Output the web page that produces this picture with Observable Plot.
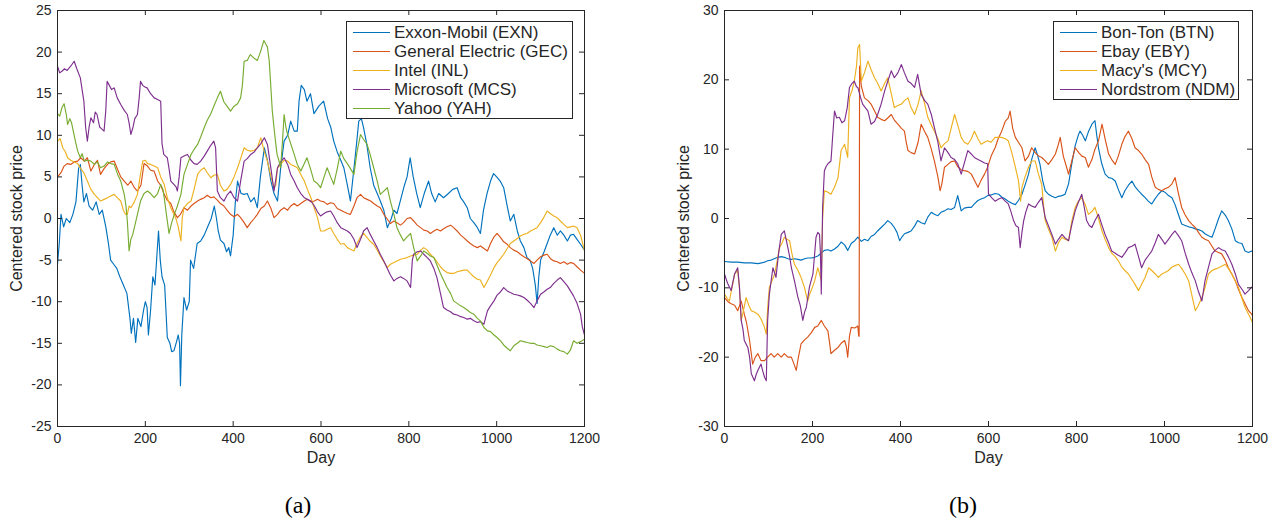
<!DOCTYPE html>
<html><head><meta charset="utf-8">
<script src="https://cdn.jsdelivr.net/npm/d3@7"></script>
<script src="https://cdn.jsdelivr.net/npm/@observablehq/plot@0.6"></script>
<style>
body{margin:0;background:#fff}
#root{position:relative;width:1275px;height:522px;overflow:hidden;font-family:"Liberation Sans",Arial,sans-serif;color:#262626;background:#fff}
.panel{position:absolute;top:0}
.legend{position:absolute;background:#fff;border:1px solid #262626;box-sizing:border-box}
.row{position:absolute;left:0;height:19px;font-size:17px;line-height:19px;white-space:nowrap}
.row svg{position:absolute;left:6px;top:0}
.row span{position:absolute}
.cap{position:absolute;width:100px;text-align:center;font-family:"Liberation Serif","Times New Roman",serif;font-size:24px;line-height:24px;color:#000}
</style></head>
<body><div id="root"></div>
<script>
// ---------- data ----------
const xTicks = [0, 200, 400, 600, 800, 1000, 1200];
const yTicksA = [-25, -20, -15, -10, -5, 0, 5, 10, 15, 20, 25];
const yTicksB = [-30, -20, -10, 0, 10, 20, 30];
const namesA = ["Exxon-Mobil (EXN)", "General Electric (GEC)", "Intel (INL)", "Microsoft (MCS)", "Yahoo (YAH)"];
const namesB = ["Bon-Ton (BTN)", "Ebay (EBY)", "Macy's (MCY)", "Nordstrom (NDM)"];
const colors = ["#0072BD", "#D95319", "#EDB120", "#7E2F8E", "#77AC30"];

const exn = [[0,-5.5],[4,-3],[8,0.5],[14,-1],[20,0],[28,-0.5],[35,0.5],[42,2],[48,6],[52,6.5],[56,4],[60,2],[66,3],[72,1.5],[80,1],[88,2],[95,0.5],[102,1],[110,-1],[116,-3],[121,-5],[128,-5.5],[135,-6],[142,-7],[150,-8],[158,-9],[165,-12],[168,-13.8],[173,-12],[178,-14.9],[183,-12],[190,-13],[196,-11],[200,-10],[204,-10.7],[207,-14],[212,-11],[217,-7],[222,-8],[227,-3.9],[230,-1.5],[234,-5],[238,-7],[244,-8],[250,-14.3],[256,-15],[260,-16],[265,-15.9],[270,-15],[275,-14],[278,-15],[280,-20.1],[283,-14],[288,-9.5],[294,-11],[300,-10],[303,-5],[310,-6],[318,-3],[326,-2.7],[334,-2],[342,-1],[350,0],[357,1.5],[362,0],[366,-1.5],[371,-2.6],[379,-3],[385,-4],[390,-3.5],[394,-4.5],[400,-2],[405,2],[410,4.5],[418,3],[425,2.9],[432,3],[440,2],[448,2.5],[455,1.3],[462,5],[471,8.5],[478,7],[486,4.5],[493,3],[501,2.1],[508,6],[516,9.3],[524,10],[531,11.7],[539,10.5],[546,10.5],[550,14.1],[555,16],[562,15.5],[568,14.1],[576,15],[584,12.6],[595,13.5],[606,14.1],[615,12],[622,11],[629,9.3],[637,8],[645,7],[652,6.1],[660,4],[667,2.1],[675,6],[681,9],[686,11.7],[692,12],[697,10.9],[704,9],[712,6.1],[720,4],[728,3],[735,2.1],[743,1],[751,-1.1],[760,0],[766,1],[773,0.6],[780,2],[790,4],[796,5],[803,7.3],[810,5],[818,3],[826,1.3],[835,3],[845,4.5],[852,3],[860,2],[868,3],[879,2.5],[890,3],[900,3.5],[910,3.7],[918,2.5],[925,2],[933,1.3],[940,0],[948,-0.5],[955,-1],[963,-1.8],[970,1],[978,3],[986,4.5],[993,5.4],[1000,5],[1008,4.5],[1016,3.7],[1024,1.5],[1031,-0.3],[1039,0.5],[1047,-1.5],[1054,-2.7],[1062,-3.5],[1069,-4.7],[1076,-5],[1082,-6],[1088,-8],[1092,-10.2],[1096,-7],[1100,-5],[1108,-4],[1115,-3],[1122,-2],[1130,-1.1],[1138,-2],[1145,-1.5],[1153,-2],[1161,-2.7],[1168,-2],[1175,-1.9],[1183,-2.5],[1191,-3.1],[1200,-3.8]];

const gec = [[0,5],[8,5.5],[15,6.3],[22,6.6],[30,6.5],[38,6.8],[46,6.9],[53,7.3],[61,6.9],[68,7.3],[76,5.7],[84,6.5],[91,7],[98,5.3],[106,6],[114,6.5],[121,6.8],[129,6.9],[136,6],[144,5],[152,4.5],[160,4],[167,4.5],[175,3.7],[182,3.3],[190,4],[197,6.6],[205,6.3],[212,5.8],[220,5.7],[228,4.5],[235,4],[243,2.9],[250,2.2],[258,1.8],[265,0.8],[273,0.1],[280,0.5],[288,1.3],[296,1],[304,1.5],[311,1.8],[319,2.1],[326,2.3],[334,2.5],[341,2.8],[349,2.5],[356,2.6],[364,2.2],[371,1.8],[379,1.5],[386,1],[394,0.5],[402,0.2],[410,0.5],[417,0.1],[425,-0.5],[432,-1.1],[440,-0.5],[448,0],[455,0.5],[463,1.2],[471,1.5],[478,2.1],[486,1.2],[493,0.1],[501,0.5],[508,1],[516,1.3],[524,1],[531,1.5],[539,1.8],[546,1.5],[554,1.8],[562,2.1],[569,2.3],[577,2],[585,2.1],[592,2.3],[599,2.1],[607,2],[614,1.7],[622,1.9],[629,1.8],[637,1.2],[645,1],[652,0.8],[660,0.6],[667,0.5],[675,1.5],[682,2.5],[690,2.9],[697,2.5],[705,2.3],[713,2.1],[720,1.8],[728,1.5],[735,1.3],[743,0.5],[750,0],[758,-0.6],[766,-0.3],[773,-0.5],[781,-0.8],[788,-0.5],[796,0],[804,0.1],[811,-0.3],[819,-0.8],[827,-1.1],[834,-1.4],[842,-1.5],[849,-1.8],[857,-1.5],[864,-1.3],[872,-1.5],[880,-1.2],[887,-1],[895,-0.8],[902,-1.1],[910,-1.5],[918,-2],[925,-2.3],[933,-2.7],[940,-3],[948,-3.3],[956,-3.5],[963,-3.3],[971,-3.6],[979,-3.9],[986,-3],[994,-2.2],[1001,-1.8],[1009,-2.3],[1016,-2.8],[1024,-3.1],[1031,-3.5],[1039,-3.8],[1047,-4],[1054,-4.3],[1062,-4.6],[1069,-4.8],[1077,-5.1],[1085,-5.4],[1092,-5],[1100,-4.6],[1108,-4.4],[1115,-4.3],[1122,-4.8],[1130,-5.1],[1138,-5.2],[1145,-5.4],[1153,-5.2],[1161,-5.5],[1168,-5.3],[1175,-5.4],[1183,-5.8],[1191,-6.2],[1200,-6.6]];

const inl = [[0,9.3],[6,9.6],[12,8.5],[18,8],[23,7.3],[30,7],[38,6.8],[46,6.6],[53,6],[60,5.5],[68,4.5],[76,3.5],[84,2.9],[91,2.5],[98,2.1],[106,2.3],[114,2.5],[121,2.7],[129,2.9],[136,2.5],[144,2.1],[150,1],[155,0.5],[159,0.5],[163,1.5],[167,1.3],[175,2],[182,2.9],[188,5],[194,6.9],[200,7],[205,6.6],[212,6.5],[220,6.3],[228,6.1],[235,5],[243,4.1],[250,2.5],[258,1.3],[265,0.5],[269,0.1],[275,-1],[281,-2.7],[284,0],[288,1.3],[296,1.8],[304,2.1],[311,3.5],[319,5.3],[326,5.8],[334,6.1],[341,5.5],[349,4.9],[356,5.2],[364,5.3],[371,4],[379,3.3],[386,3.5],[394,4.1],[402,5],[410,6.1],[417,7.2],[425,8.5],[432,8.2],[440,8.1],[448,8.2],[455,8.5],[463,9.7],[471,8],[478,6.9],[486,5],[493,3.7],[497,4],[501,6.1],[508,6.5],[516,7],[524,6.9],[531,6.5],[539,6.3],[546,6.1],[554,5.3],[562,4.5],[569,3.5],[577,2.5],[585,1.2],[592,0.1],[599,-1.5],[607,-1.5],[614,-1.3],[622,-1.1],[629,-1.8],[637,-2.5],[645,-3.1],[652,-3],[660,-3.5],[667,-3.7],[675,-3.9],[682,-3],[690,-2.2],[697,-1.8],[705,-2.3],[713,-2.8],[720,-3.1],[728,-3.8],[735,-4.5],[743,-5.2],[751,-5.9],[758,-5.5],[766,-5.3],[773,-5.1],[781,-4.9],[788,-4.8],[796,-4.7],[804,-4.5],[811,-4.4],[819,-4.3],[827,-3.8],[834,-3.5],[842,-3.8],[849,-4.3],[857,-4.7],[864,-5.2],[872,-5.8],[879,-6.2],[887,-6.5],[895,-6.6],[902,-6.6],[910,-6.4],[918,-6.3],[925,-6.2],[933,-6.2],[940,-6.6],[948,-7],[956,-7.3],[963,-7.4],[971,-8.3],[979,-7.5],[986,-6.8],[994,-5.9],[1001,-5.3],[1009,-4.8],[1016,-4.3],[1024,-3.6],[1031,-3],[1039,-2.7],[1047,-2.4],[1054,-2.1],[1062,-1.9],[1069,-1.8],[1077,-1.5],[1085,-1.3],[1092,-1.1],[1100,-0.5],[1108,0.2],[1115,0.9],[1122,0.6],[1130,0.3],[1138,0.1],[1145,-0.3],[1153,-0.7],[1161,-1.1],[1168,-1],[1175,-0.9],[1183,-1.1],[1191,-2],[1200,-3.9]];

const mcs = [[0,18.3],[5,17.5],[10,17.7],[16,18],[22,17.8],[30,18.3],[38,18.9],[44,18],[52,16.9],[56,15.5],[60,14.1],[64,11],[68,9.3],[72,11],[76,12.1],[82,11.5],[86,12.8],[90,12.5],[96,11],[100,10.8],[106,10.5],[110,13],[113,16.5],[118,16],[123,15.5],[129,15.7],[136,14.5],[144,13.7],[152,13],[159,12.5],[163,11.5],[167,10.1],[172,11],[176,12],[182,12.5],[186,14.5],[189,16.5],[194,16],[199,15.8],[204,15.7],[212,15],[220,14.5],[228,14.3],[235,14.1],[238,9],[242,7.7],[246,7.5],[250,7.3],[254,6],[258,4.5],[265,4.1],[270,3.8],[273,3.3],[277,5],[281,7.3],[288,7.5],[296,7.7],[304,7],[311,6.6],[318,6.5],[326,6.9],[334,7.5],[341,8.1],[349,8.8],[356,9.3],[360,8.5],[364,3.3],[371,2.5],[379,2.1],[386,2.8],[394,3.3],[402,2.5],[410,2.1],[417,4.5],[425,6.9],[432,7.2],[440,7.7],[448,8],[455,8.5],[463,9],[471,9.7],[478,8.9],[486,6],[493,3.3],[501,6.1],[508,6.8],[516,7.3],[524,6.5],[531,5.3],[539,4.5],[546,3.7],[554,3],[562,2.5],[569,2.3],[577,2.1],[585,1.5],[592,0.8],[599,0.3],[607,0.6],[614,0.8],[622,0.9],[629,0.3],[637,-0.5],[645,-1.1],[652,-1.3],[660,-1.5],[667,-1.8],[675,-2.5],[682,-3.5],[690,-2.5],[697,-1.5],[705,-1.1],[713,-2],[720,-2.7],[728,-3.5],[735,-4.3],[743,-5.1],[751,-6],[758,-6.8],[766,-7.5],[773,-7.2],[781,-7],[788,-7.2],[796,-7.5],[804,-8.3],[808,-5],[811,-4.3],[819,-4],[827,-3.9],[834,-4.3],[842,-4.7],[849,-5.1],[857,-6],[864,-7.1],[872,-9],[879,-10.7],[887,-11],[895,-11.2],[902,-11.5],[910,-11.6],[918,-11.8],[925,-11.9],[933,-12.1],[940,-12],[948,-12.3],[956,-12.5],[963,-12.4],[971,-12.7],[979,-11.1],[986,-10.5],[994,-9.9],[1001,-9.2],[1009,-8.8],[1016,-8.3],[1024,-8.7],[1031,-8.9],[1039,-9.1],[1047,-9.2],[1054,-9.3],[1062,-9.5],[1069,-9.8],[1077,-10.2],[1085,-10.7],[1092,-9.9],[1100,-9.1],[1108,-8.8],[1115,-8.5],[1122,-8.3],[1130,-7.8],[1138,-7.4],[1145,-7.1],[1153,-7.6],[1161,-8.1],[1168,-8.7],[1175,-9.3],[1183,-10.2],[1191,-11.5],[1195,-13],[1200,-14]];

const yah = [[0,12.6],[5,12.3],[10,13.3],[15,13.8],[20,12.5],[23,11.3],[28,12],[32,11.5],[38,10],[42,9],[46,8.1],[52,7.3],[56,7.8],[61,6.9],[68,7],[76,6.9],[84,6.5],[91,6.8],[98,6.1],[106,6.3],[114,6.8],[121,6.6],[129,6.5],[137,5.3],[144,4.5],[152,2.9],[156,1.5],[159,-0.3],[163,-3.9],[167,-2.5],[171,-2],[175,-1.1],[182,0.5],[189,2.1],[197,3],[205,3.3],[212,3],[220,2.5],[228,3],[235,4.1],[240,3.5],[243,2.5],[248,0.5],[254,-1.8],[260,-0.5],[266,0.5],[273,1.5],[281,2.9],[288,5.3],[296,6.5],[304,7.7],[311,8.3],[319,8.9],[326,9.8],[334,10.9],[341,11.8],[349,12.6],[356,13.5],[364,14.5],[371,15.3],[379,14],[386,13.5],[394,12.9],[402,13.5],[410,13.8],[417,14.5],[421,16],[425,18.9],[432,19],[439,19.7],[447,19.3],[455,19],[462,20],[470,21.4],[474,21],[478,20.6],[482,19],[485,16.5],[489,13],[493,10.9],[497,9],[500,7.7],[504,7],[508,6.1],[512,9],[516,12.5],[520,11],[523,10.3],[531,9],[539,7.7],[546,6.5],[554,5.7],[561,6.5],[568,7.3],[576,6],[584,4.5],[592,4.2],[599,3.7],[607,5],[614,6.1],[622,5],[629,4.1],[637,6],[645,8.1],[652,7.2],[660,6.6],[667,6],[675,5.3],[682,8],[690,10.1],[697,9.5],[705,8.9],[713,7.5],[720,6.1],[728,4.5],[735,2.9],[743,3.3],[751,3.7],[758,2.1],[766,0.5],[773,-1.1],[781,-2],[788,-2.7],[796,-2.2],[804,-1.8],[811,-3.5],[819,-5.1],[827,-4.5],[834,-3.9],[842,-4.2],[849,-4.5],[857,-4.7],[864,-5.6],[872,-6.6],[880,-7.5],[887,-8.3],[895,-9],[902,-9.9],[910,-10.2],[918,-10.5],[925,-10.7],[933,-11],[940,-11.3],[948,-11.5],[956,-12],[963,-12.3],[971,-13.1],[979,-13.5],[986,-13.6],[994,-14],[1001,-14.3],[1009,-14.7],[1016,-15.2],[1024,-15.6],[1031,-15.9],[1039,-15.3],[1047,-15],[1054,-14.7],[1062,-14.8],[1069,-14.9],[1077,-15],[1085,-15],[1092,-15.2],[1100,-15.3],[1108,-15.4],[1115,-15.5],[1122,-15.3],[1130,-15.4],[1138,-15.7],[1145,-15.9],[1153,-16],[1161,-16.3],[1168,-15.8],[1175,-14.7],[1183,-15],[1191,-14.8],[1200,-14.5]];

const btn = [[0,-6.2],[15,-6.3],[30,-6.3],[45,-6.4],[61,-6.4],[76,-6.5],[91,-6.3],[98,-6.1],[106,-6],[113,-5.8],[121,-5.6],[129,-5.5],[136,-5.6],[144,-5.8],[152,-5.9],[159,-5.8],[167,-5.9],[174,-6],[182,-5.8],[189,-5.7],[197,-5.7],[205,-5.6],[212,-5.4],[220,-5],[227,-4.6],[235,-4.5],[242,-4.7],[250,-4.4],[258,-4],[265,-3.4],[273,-3.8],[280,-4.6],[288,-3.6],[296,-3.2],[303,-2.7],[311,-3.3],[318,-3],[326,-3.2],[333,-2.6],[341,-2.3],[348,-1.8],[356,-1.3],[364,-0.8],[371,-0.3],[379,-0.7],[386,-1.3],[392,-2],[398,-3.2],[404,-2.6],[409,-2.2],[417,-2],[424,-1.8],[432,-1.1],[439,-0.3],[447,-0.6],[455,-0.8],[462,0.2],[470,0.9],[477,0.6],[485,0.4],[492,0.9],[500,1.1],[508,1.4],[515,1.3],[523,1.6],[530,3.3],[534,2.2],[538,1.1],[545,1.5],[553,1.6],[561,1.6],[568,2.1],[576,2.6],[583,2.8],[591,3],[598,3.3],[606,3.4],[615,3.6],[623,3.5],[630,3.1],[638,2.8],[645,2.5],[653,2.2],[661,2],[668,2.6],[676,3.5],[684,5],[691,6.4],[698,8.5],[706,10.2],[712,9],[717,7.8],[723,5.5],[729,4],[736,3.5],[744,3.2],[752,3],[759,3.2],[767,3.3],[774,3.5],[782,5],[789,7.8],[797,10.5],[804,12],[808,12.6],[814,12],[820,11.2],[827,12.5],[835,13.6],[842,14.1],[846,12],[850,10.2],[857,8],[865,6.4],[873,5.9],[880,5.8],[888,5.4],[895,4.2],[903,3],[910,4],[918,4.8],[926,5.4],[933,4.6],[941,4],[948,3.5],[956,3],[963,2.5],[971,2.1],[978,2.8],[986,3.5],[994,4],[1001,3.8],[1009,3.3],[1017,3],[1024,2],[1032,0.5],[1039,-0.8],[1047,-1],[1055,-1.2],[1062,-1.3],[1070,-1.5],[1077,-1.6],[1085,-1.8],[1092,-2.2],[1100,-2.5],[1108,-2.7],[1115,-1.5],[1123,0],[1130,1.1],[1138,0.5],[1145,-0.3],[1153,-1.5],[1161,-3.2],[1168,-3.5],[1176,-3.6],[1183,-4.7],[1191,-4.9],[1198,-4.7],[1200,-4.8]];

const eby = [[0,-11.4],[8,-12],[15,-12.3],[23,-12.5],[30,-13.3],[38,-11.9],[45,-13.8],[50,-15],[57,-17.6],[64,-21],[70,-20],[76,-19.5],[83,-20.5],[91,-20.5],[98,-20],[106,-19.5],[113,-20],[121,-19.5],[129,-20],[136,-19.5],[144,-20],[152,-20],[158,-21],[163,-21.9],[168,-20],[174,-18.1],[182,-17.5],[189,-17.1],[197,-16.5],[205,-15.7],[212,-15.5],[220,-14.7],[227,-15.5],[235,-16.2],[239,-18],[242,-19.5],[250,-19],[258,-18.6],[265,-18],[273,-17.6],[277,-18.5],[280,-20],[284,-17],[288,-15.7],[296,-15.8],[303,-15.5],[305,-16.9],[306,-17],[307,22],[311,19.1],[318,17.4],[326,17],[333,16.5],[341,15.5],[348,14.6],[356,14.3],[364,14.1],[371,14.5],[379,15],[386,14.2],[394,13.6],[402,13],[409,12.6],[413,11],[417,9.8],[424,9.5],[432,9.3],[440,11],[447,13.6],[455,12.5],[462,11.7],[470,10],[477,8.3],[485,6],[490,4],[494,5],[500,7.4],[508,7.8],[515,8.2],[523,8.3],[530,7.5],[538,7],[545,6.9],[553,6.8],[561,6.4],[568,5.5],[576,4.5],[583,5.5],[591,6.4],[598,7.4],[606,9],[615,10.2],[622,11.5],[630,12.6],[638,14],[645,14.5],[649,15.5],[655,13],[661,11.7],[668,11],[676,10.2],[683,8.3],[691,9],[698,10.2],[706,9.5],[714,9],[721,8.8],[729,8.3],[736,7.8],[744,8.5],[752,9.3],[758,10.5],[763,11.7],[770,9],[777,7.5],[782,6.4],[790,8.5],[797,10.2],[805,9.5],[812,9],[820,8.8],[827,7.4],[835,8.5],[842,10],[850,11.2],[858,13.6],[865,11.5],[873,9.3],[880,8.5],[888,7.8],[895,9],[903,10.7],[910,11.8],[918,12.6],[926,11.5],[933,10.2],[941,9.8],[948,9.3],[956,8.5],[964,7.8],[971,6],[979,4.5],[986,4.2],[994,4],[1001,4.3],[1009,4.5],[1017,5],[1024,5.9],[1032,3.5],[1039,1.6],[1047,0.5],[1055,-0.3],[1062,-0.8],[1070,-1.3],[1077,-2],[1085,-2.7],[1092,-3],[1100,-3.2],[1108,-4],[1115,-4.7],[1123,-4.9],[1130,-5.1],[1138,-6],[1145,-7.1],[1153,-8],[1161,-9],[1168,-10.2],[1176,-11.4],[1183,-12.3],[1191,-13.3],[1198,-13.8],[1200,-14]];

const mcy = [[0,-10.9],[6,-11.5],[11,-11.9],[17,-10],[23,-8],[30,-7.5],[34,-10],[38,-14.7],[44,-13],[49,-11.4],[55,-12.5],[61,-13.3],[68,-13.5],[76,-13.8],[83,-14.5],[91,-15.7],[95,-16.7],[98,-13],[102,-9.9],[108,-9],[114,-8],[120,-6],[125,-4.2],[131,-3.5],[136,-2.7],[142,-3],[148,-3.2],[153,-5],[159,-6.6],[167,-7.5],[174,-8.5],[182,-10],[189,-11.9],[193,-11],[197,-10.4],[205,-9],[212,-7.1],[216,-8],[220,-9],[223,0],[227,4],[235,3.8],[242,3.5],[250,4.5],[258,5.9],[265,9.8],[273,10.7],[280,8.8],[284,17.4],[290,18.5],[295,19.8],[300,22],[303,24.6],[307,25.1],[311,19.8],[318,21],[326,22.7],[333,21.5],[341,20.3],[348,19.5],[356,18.4],[364,19.5],[371,20.3],[379,18],[386,16],[394,16.3],[402,16.5],[409,17],[417,17.4],[424,16],[432,15],[440,16.5],[447,18.4],[455,16.5],[462,14.6],[470,13.5],[477,12.6],[485,11.5],[492,10.2],[500,10.8],[508,11.2],[515,13],[523,15],[530,13.5],[538,11.7],[545,11],[553,10.7],[561,11.5],[568,12.6],[576,11.5],[583,10.7],[591,11],[598,11.2],[606,11],[615,11.7],[623,11.7],[630,11.7],[638,11.5],[645,11.2],[653,9.5],[661,7.4],[668,5.5],[673,2.5],[676,4.5],[683,6],[691,7.4],[698,8.3],[706,8.3],[713,6.5],[721,4.9],[725,2],[729,-0.3],[736,-1.5],[744,-2.7],[752,-4.7],[759,-3.5],[767,-2.7],[774,-3],[782,-3.2],[789,-0.5],[797,1.6],[804,2.5],[812,3],[820,2],[827,0.6],[835,1],[842,1.6],[850,0],[858,-1.8],[865,-3],[873,-4.2],[880,-5],[888,-5.5],[895,-6.1],[903,-7],[910,-7.5],[918,-8],[926,-8.8],[933,-9.5],[941,-10.4],[948,-9.5],[956,-8.5],[964,-7.1],[971,-7.5],[979,-8],[986,-8.5],[994,-8],[1001,-7.8],[1009,-7.5],[1017,-7],[1024,-6.8],[1032,-6.6],[1039,-7.2],[1047,-8],[1055,-9],[1062,-11],[1070,-13.3],[1077,-12.5],[1085,-11.4],[1092,-10],[1100,-8],[1108,-7.5],[1115,-7.3],[1123,-7.1],[1130,-6.9],[1138,-6.6],[1145,-7.2],[1153,-8],[1161,-9],[1168,-9.9],[1176,-11.5],[1183,-12.8],[1191,-13.8],[1198,-14.7],[1200,-15]];

const ndm = [[0,-8],[4,-8.8],[8,-9.5],[15,-10.4],[23,-8],[30,-7.1],[34,-9.9],[38,-14.7],[42,-16],[45,-17.6],[53,-18.6],[57,-20],[61,-22.4],[68,-23.4],[72,-22.5],[76,-21.9],[83,-21],[87,-22],[91,-22.9],[95,-23.4],[98,-14.7],[102,-10.9],[106,-9],[110,-7.1],[117,-8.5],[123,-5],[129,-2.3],[136,-1.8],[140,-3],[144,-4.2],[148,-5.5],[152,-7.1],[159,-9],[167,-11.4],[172,-12.5],[178,-14.7],[182,-13.5],[186,-12.8],[193,-9.9],[201,-8],[205,-5],[208,-2.7],[212,-2],[216,-2.3],[218,-5],[220,-10.9],[223,1.6],[227,6.9],[231,7.5],[235,7.9],[242,8.3],[246,12],[250,15.5],[255,14.5],[261,14.6],[267,13.8],[273,14.1],[279,16],[284,18.9],[290,19.5],[295,19.8],[300,19],[303,18.9],[309,17.5],[314,16.5],[320,16],[326,15.5],[333,13.6],[341,14],[348,15],[356,16.5],[364,18.4],[371,19.8],[379,21.3],[386,20.3],[394,21],[402,22.2],[409,21],[417,19.8],[424,19.5],[432,18.9],[439,20.8],[447,17.9],[455,17],[462,16.5],[470,15],[477,13.1],[485,11],[492,8.3],[500,10.2],[508,9.5],[515,8.8],[523,8.5],[530,7.9],[538,6.4],[545,8],[553,9.8],[561,9.3],[568,8.8],[576,8.5],[583,8.3],[591,8],[598,7.9],[600,3.5],[607,3],[615,2.5],[623,2.8],[630,3],[638,2.5],[645,2.1],[651,1],[657,-0.3],[662,-1],[668,-1.3],[672,-4.2],[676,-2],[680,-0.3],[685,1],[691,2.1],[698,1.8],[706,1.6],[713,2.3],[721,3],[725,1.5],[729,0.1],[736,-1],[744,-2.3],[752,-3.7],[759,-3],[767,-2.3],[774,-2.8],[782,-3.2],[789,-1],[797,1.1],[804,2.3],[812,3.5],[818,1.5],[823,-0.3],[829,-1],[835,-1.3],[842,-0.3],[850,0.6],[858,-1],[865,-2.3],[873,-3.5],[880,-4.7],[888,-5],[895,-5.3],[903,-5.6],[910,-5],[918,-4.2],[926,-4],[933,-3.7],[941,-5.5],[948,-7.1],[956,-6],[964,-5.3],[971,-4.7],[979,-3.5],[986,-2.3],[994,-3],[1001,-3.7],[1009,-3],[1017,-2.3],[1024,-1.8],[1032,-2.5],[1039,-3.2],[1047,-5],[1055,-6.6],[1062,-7.8],[1070,-9],[1077,-10.5],[1085,-11.9],[1092,-9],[1100,-7],[1108,-5.1],[1115,-4.6],[1123,-4.2],[1130,-4.5],[1138,-4.7],[1145,-5.5],[1153,-6.6],[1161,-8],[1168,-9.5],[1176,-10.2],[1183,-10.9],[1191,-10.4],[1198,-9.9],[1200,-10]];

// ---------- drawing ----------
const INK = "#262626";
const TICK = 5;
const root = document.getElementById("root");

function panel(names, seriesList, yDomain, yTicks, opts) {
  const rows = [];
  names.forEach((n, i) => seriesList[i].forEach(([d, v]) => rows.push({name: n, day: d, value: v})));
  const fmt = d => String(d);
  const H = 470, mt = 10, mb = 44;
  const fw = opts.width - opts.ml - opts.mr;   // frame width in px
  const fh = H - mt - mb;                       // frame height in px
  return Plot.plot({
    width: opts.width, height: H,
    marginLeft: opts.ml, marginRight: opts.mr, marginTop: mt, marginBottom: mb,
    x: {domain: [0, 1200]},
    y: {domain: yDomain},
    color: {domain: names, range: colors.slice(0, names.length)},
    style: {fontFamily: '"Liberation Sans", Arial, sans-serif', fontSize: "14px", color: INK, background: "transparent", overflow: "visible"},
    marks: [
      Plot.lineY(rows, {x: "day", y: "value", z: "name", stroke: "name", strokeWidth: 1.15}),
      Plot.frame({stroke: INK, strokeWidth: 1}),
      // inward tick marks on all four sides
      Plot.ruleX(xTicks, {x: d => d, insetTop: fh - TICK, stroke: INK}),
      Plot.ruleX(xTicks, {x: d => d, insetBottom: fh - TICK, stroke: INK}),
      Plot.ruleY(yTicks, {y: d => d, insetRight: fw - TICK, stroke: INK}),
      Plot.ruleY(yTicks, {y: d => d, insetLeft: fw - TICK, stroke: INK}),
      // tick labels
      Plot.axisX({ticks: xTicks, anchor: "bottom", tickSize: 0, tickPadding: 7, tickFormat: fmt, label: null, fill: INK}),
      Plot.axisY({ticks: yTicks, anchor: "left", tickSize: 0, tickPadding: 6, tickFormat: fmt, label: null, fill: INK}),
      // axis titles
      Plot.text(["Day"], {frameAnchor: "bottom", lineAnchor: "middle", textAnchor: "middle", dy: 31, fontSize: 16, fill: INK}),
      Plot.text(["Centered stock price"], {frameAnchor: "left", lineAnchor: "middle", textAnchor: "middle", dx: -41, rotate: -90, fontSize: 16, fill: INK})
    ]
  });
}

function addPanel(left, el) {
  const d = document.createElement("div");
  d.className = "panel";
  d.style.left = left + "px";
  d.appendChild(el);
  root.appendChild(d);
}

addPanel(0, panel(namesA, [exn, gec, inl, mcs, yah], [-25, 25], yTicksA, {width: 640, ml: 57, mr: 56}));
addPanel(640, panel(namesB, [btn, eby, mcy, ndm], [-30, 30], yTicksB, {width: 635, ml: 84, mr: 23}));

function legend(names, box) {
  const lg = document.createElement("div");
  lg.className = "legend";
  Object.assign(lg.style, {left: box.x + "px", top: box.y + "px", width: box.w + "px", height: box.h + "px"});
  names.forEach((n, i) => {
    const r = document.createElement("div");
    r.className = "row";
    r.style.top = (1 + i * 19) + "px";
    r.style.width = "100%";
    r.innerHTML = `<svg width="38" height="19"><line x1="0" x2="37" y1="9.5" y2="9.5" stroke="${colors[i]}" stroke-width="1.2"/></svg><span style="left:47px">${n}</span>`;
    lg.appendChild(r);
  });
  root.appendChild(lg);
}
legend(namesA, {x: 346, y: 21, w: 227, h: 98});
legend(namesB, {x: 1053, y: 21, w: 186, h: 79});

function caption(t, cx) {
  const c = document.createElement("div");
  c.className = "cap";
  c.style.left = (cx - 50) + "px";
  c.style.top = "493px";
  c.textContent = t;
  root.appendChild(c);
}
caption("(a)", 298);
caption("(b)", 963);
</script>
</body></html>
